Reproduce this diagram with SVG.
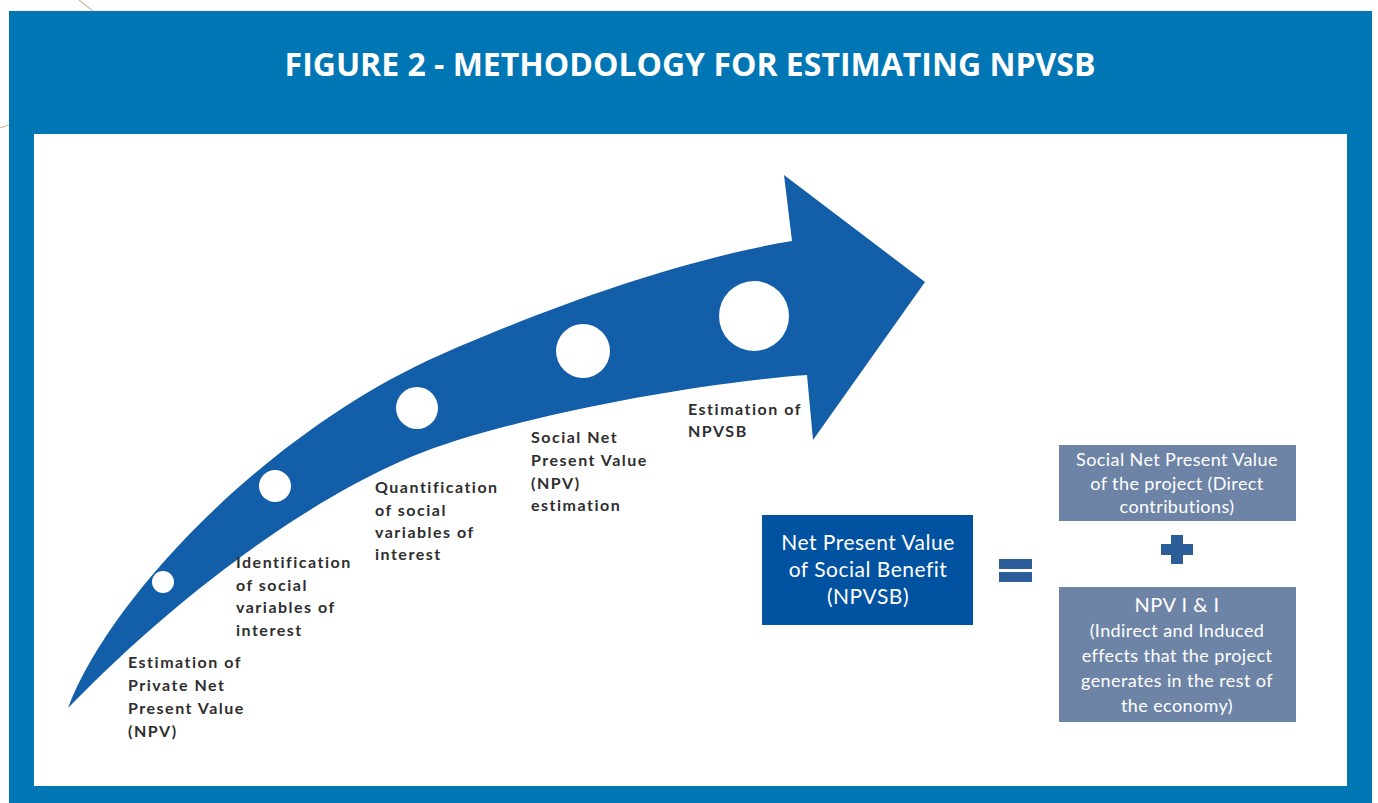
<svg xmlns="http://www.w3.org/2000/svg" width="1378" height="803" viewBox="0 0 1378 803">
  <style>
    .frame { fill: #0076B4; }
    .panel { fill: #FFFFFF; }
    .title { font-family: "Open Sans", "Liberation Sans", sans-serif; font-weight: 700; font-size: 32px; fill: #FFFFFF; }
    .arrow { fill: #125EA8; }
    .dot { fill: #FFFFFF; }
    .step { font-family: Lato, "Liberation Sans", sans-serif; font-weight: 700; font-size: 16px; letter-spacing: 1.5px; fill: #2E2E2E; }
    .main-box { fill: #0152A0; }
    .sub-box { fill: #6E84A6; }
    .box-text { font-family: Lato, "Liberation Sans", sans-serif; fill: #FFFFFF; text-anchor: middle; }
    .op { fill: #2C5E9A; }
    .deco { fill: none; stroke: #CDB9A6; stroke-width: 1.2; }
  </style>

  <!-- page background -->
  <rect x="0" y="0" width="1378" height="803" fill="#FFFFFF"/>
  <line class="deco" x1="79" y1="0" x2="93" y2="11"/>
  <line class="deco" x1="0" y1="128" x2="9" y2="125"/>

  <!-- blue frame with white drawing panel -->
  <g id="frame">
    <rect class="frame" x="9" y="11" width="1363" height="792"/>
    <rect class="panel" x="34" y="134" width="1313" height="652"/>
    <text class="title" x="690" y="76" text-anchor="middle">FIGURE 2 - METHODOLOGY FOR ESTIMATING NPVSB</text>
  </g>

  <!-- curved progress arrow with milestone dots -->
  <g id="progress-arrow">
    <path class="arrow" d="M68,708 C110,596 270,430 440,355 C560,302 690,258 792,241 L784,175 L925,282 L813,440 L807,375 C700,383 540,412 440,446 C350,476 208,564 68,708 Z"/>
    <circle class="dot" cx="163" cy="582" r="11"/>
    <circle class="dot" cx="275" cy="486" r="16"/>
    <circle class="dot" cx="417" cy="408" r="21"/>
    <circle class="dot" cx="583" cy="351" r="27"/>
    <circle class="dot" cx="754" cy="316" r="35"/>
  </g>

  <!-- step labels -->
  <g id="step-1">
    <text class="step" x="128" y="668">Estimation of</text>
    <text class="step" x="128" y="691">Private Net</text>
    <text class="step" x="128" y="714">Present Value</text>
    <text class="step" x="128" y="737">(NPV)</text>
  </g>
  <g id="step-2">
    <text class="step" x="236" y="568">Identification</text>
    <text class="step" x="236" y="591">of social</text>
    <text class="step" x="236" y="613">variables of</text>
    <text class="step" x="236" y="636">interest</text>
  </g>
  <g id="step-3">
    <text class="step" x="375" y="493">Quantification</text>
    <text class="step" x="375" y="516">of social</text>
    <text class="step" x="375" y="538">variables of</text>
    <text class="step" x="375" y="560">interest</text>
  </g>
  <g id="step-4">
    <text class="step" x="531" y="443">Social Net</text>
    <text class="step" x="531" y="466">Present Value</text>
    <text class="step" x="531" y="489">(NPV)</text>
    <text class="step" x="531" y="511">estimation</text>
  </g>
  <g id="step-5">
    <text class="step" x="688" y="415">Estimation of</text>
    <text class="step" x="688" y="437">NPVSB</text>
  </g>

  <!-- equation: NPVSB = direct + indirect/induced -->
  <g id="npvsb-box">
    <rect class="main-box" x="762" y="515" width="211" height="110"/>
    <text class="box-text" x="868" y="550" font-size="21" letter-spacing="0.5">Net Present Value</text>
    <text class="box-text" x="868" y="577" font-size="21" letter-spacing="0.5">of Social Benefit</text>
    <text class="box-text" x="868" y="604" font-size="21" letter-spacing="0.5">(NPVSB)</text>
  </g>

  <g id="equals-sign">
    <rect class="op" x="999" y="559" width="33" height="10"/>
    <rect class="op" x="999" y="572" width="33" height="10"/>
  </g>

  <g id="direct-box">
    <rect class="sub-box" x="1059" y="445" width="237" height="76"/>
    <text class="box-text" x="1177" y="466" font-size="18" letter-spacing="0.4">Social Net Present Value</text>
    <text class="box-text" x="1177" y="490" font-size="18" letter-spacing="0.4">of the project (Direct</text>
    <text class="box-text" x="1177" y="513" font-size="18" letter-spacing="0.4">contributions)</text>
  </g>

  <g id="plus-sign">
    <rect class="op" x="1161" y="544" width="32" height="11"/>
    <rect class="op" x="1171" y="535" width="12" height="29"/>
  </g>

  <g id="indirect-box">
    <rect class="sub-box" x="1059" y="587" width="237" height="135"/>
    <text class="box-text" x="1177" y="612" font-size="20" letter-spacing="0.5">NPV I &amp; I</text>
    <text class="box-text" x="1177" y="637" font-size="18" letter-spacing="0.4">(Indirect and Induced</text>
    <text class="box-text" x="1177" y="662" font-size="18" letter-spacing="0.4">effects that the project</text>
    <text class="box-text" x="1177" y="687" font-size="18" letter-spacing="0.4">generates in the rest of</text>
    <text class="box-text" x="1177" y="712" font-size="18" letter-spacing="0.4">the economy)</text>
  </g>

  <!-- connectors: the flow is carried by the arrow shape and the operators -->
  <g id="connectors"/>
</svg>
